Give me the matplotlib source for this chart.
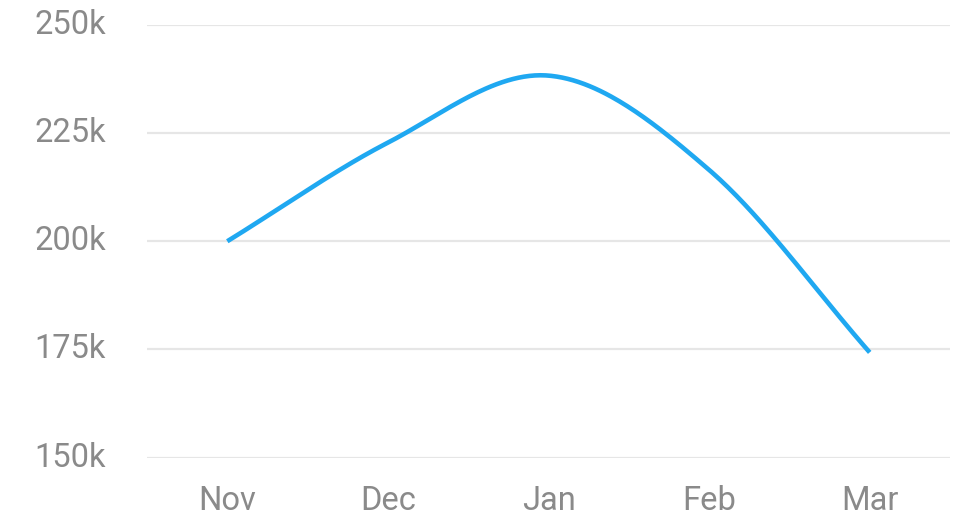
import numpy as np
import matplotlib
matplotlib.use("Agg")
import matplotlib.pyplot as plt

months = ["Nov", "Dec", "Jan", "Feb", "Mar"]
values = [200000, 222800, 238300, 216500, 174300]
y_ticks = [150000, 175000, 200000, 225000, 250000]
y_tick_labels = ["150k", "175k", "200k", "225k", "250k"]

plt.rcParams['font.family'] = ['Roboto', 'DejaVu Sans']

def catmull_rom(x, y, n=60):
    x = np.asarray(x, float); y = np.asarray(y, float)
    px = np.concatenate([[2*x[0]-x[1]], x, [2*x[-1]-x[-2]]])
    py = np.concatenate([[2*y[0]-y[1]], y, [2*y[-1]-y[-2]]])
    xs, ys = [], []
    t = np.linspace(0, 1, n)
    for i in range(1, len(px)-2):
        p0, p1, p2, p3 = py[i-1], py[i], py[i+1], py[i+2]
        m1 = (p2 - p0) / 2.0
        m2 = (p3 - p1) / 2.0
        h00 = 2*t**3 - 3*t**2 + 1
        h10 = t**3 - 2*t**2 + t
        h01 = -2*t**3 + 3*t**2
        h11 = t**3 - t**2
        ys.append(h00*p1 + h10*m1 + h01*p2 + h11*m2)
        xs.append(px[i] + t*(px[i+1]-px[i]))
    return np.concatenate(xs), np.concatenate(ys)

fig = plt.figure(figsize=(9.72, 5.2), dpi=100)
W, H = 972, 520
ax = fig.add_axes([147/W, 1-457.5/H, (950-147)/W, (457.5-25)/H])

xi = np.arange(len(months))
sx, sy = catmull_rom(xi, values)
ax.plot(sx, sy, color="#1FA8F1", lw=3.3, solid_capstyle="butt", zorder=3)

ax.set_xlim(-0.5, 4.5)
ax.set_ylim(150000, 250000)
ax.set_yticks(y_ticks)
ax.set_yticklabels(y_tick_labels)
ax.set_xticks(xi)
ax.set_xticklabels(months)
ax.grid(axis="y", color="#e6e6e6", lw=1.6)
ax.set_axisbelow(True)
for s in ax.spines.values():
    s.set_visible(False)
ax.tick_params(axis="both", length=0, labelsize=23.5, labelcolor="#8a8a8a")
ax.tick_params(axis="y", pad=29.5)
ax.tick_params(axis="x", pad=20)
for lab in ax.get_yticklabels():
    lab.set_verticalalignment("center")

fig.savefig("out.png", dpi=100)
